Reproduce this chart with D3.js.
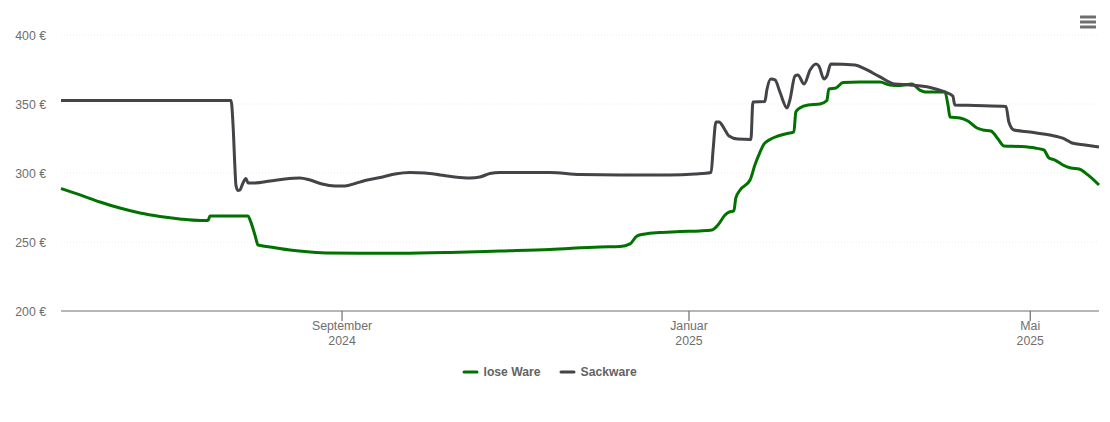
<!DOCTYPE html>
<html>
<head>
<meta charset="utf-8">
<script src="https://cdnjs.cloudflare.com/ajax/libs/d3/7.8.5/d3.min.js"></script>
<style>
    html, body { margin: 0; padding: 0; background: #fff; }
    svg { display: block; font-family: "Liberation Sans", Arial, sans-serif; }
</style>
</head>
<body>
<svg id="chart" width="1110" height="422"></svg>
<script>
// values, days are counted from the first date
const firstDate = "2024-05-25";
const lastDate = "2025-05-25";

const seriesNames = ["lose Ware", "Sackware"];

const loseDays = [0, 6.7, 13.7, 20.7, 27.8, 34.8, 41.8, 48.9, 51.7, 52.4, 65.8, 66.5, 68.2, 69.3, 73.5, 80.5,
    87.6, 94.6, 105.1, 119.2, 136.8, 154.4, 171.9, 189.5, 196.6, 200.1, 202.5, 205.3, 210.6, 217.7, 224.7,
    228.9, 231, 233.5, 234.9, 236.6, 237.3, 238.8, 242.3, 244, 245.8, 247.2, 249.3, 252.1, 256.3, 257.7,
    258.4, 259.8, 262.7, 266.9, 269.3, 270, 272.5, 275, 280.9, 288, 291.5, 295, 299.2, 302, 303.8, 310.8,
    311.9, 312.6, 316.1, 318.9, 322.1, 324.2, 327, 329.5, 331.6, 337.2, 342.5, 345.6, 347.4, 349.5, 352.3,
    355.1, 358, 361.1, 365];
const loseValues = [288.8, 284.1, 279, 274.6, 271, 268.5, 266.7, 265.6, 265.6, 268.8, 268.8, 265.9, 255.1, 247.8, 246.4, 244.2,
    242.8, 242, 241.8, 241.8, 242.4, 243.5, 244.6, 246.4, 246.7, 248.6, 254.3, 255.8, 256.9, 257.6, 258,
    258.7, 262.3, 269.6, 271.7, 272.5, 281.9, 287.7, 294.9, 305.8, 315.2, 321, 324.3, 326.8, 329, 329.7,
    344.2, 347.1, 349.3, 350, 352.5, 360.9, 361.6, 365.6, 365.9, 365.9, 363.8, 363.4, 364.5, 360.1, 358.7, 358.7,
    349.3, 340.6, 339.9, 337.7, 332.6, 331.2, 330.4, 324.6, 319.6, 319.2, 318.1, 316.7, 310.9, 309.4, 305.8,
    303.6, 302.9, 298.6, 291.3];

const sackDays = [0, 59.8, 60.5, 61.2, 61.5, 62.2, 62.9, 64, 65, 65.8, 68.2, 73.5, 78.8, 84, 87.6, 91.8, 96.3, 99.9,
    103.4, 106.9, 112.2, 117.4, 122.7, 128, 133.3, 138.5, 143.8, 147.3, 150.8, 154.4, 171.9, 182.5, 196.6,
    214.1, 222.9, 228.6, 229.3, 230.3, 231.4, 233.1, 234.9, 238, 242.6, 243.3, 247.5, 248.2, 249.6, 251.1,
    252.8, 255.3, 256.3, 258.1, 259.1, 261.3, 263.4, 265.5, 266.5, 268.3, 269.3, 270.7, 279.2, 282.7, 288,
    293.2, 298.5, 305.6, 310.8, 313.6, 314.3, 321.4, 332.3, 333.3, 335.1, 340.7, 347.7, 353, 355.5, 360.1, 365];
const sackValues = [352.5, 352.5, 334.8, 302.2, 291.3, 287.3, 287.7, 292.8, 296, 292.8, 292.8, 294.2, 295.7, 296.4, 294.9, 292, 290.6, 290.6,
    292.4, 294.6, 296.7, 299.3, 300.4, 300, 298.6, 297.1, 296.4, 297.1, 299.6, 300.4, 300.4, 298.9, 298.6,
    298.6, 299.3, 300.4, 316.7, 337, 337, 332.6, 326.8, 324.6, 324.3, 351.4, 351.8, 360.1, 368.1, 367.4,
    358.7, 347.1, 352.9, 370.3, 371, 364.5, 374.6, 379, 377.5, 368.1, 370.3, 379, 378.3, 375.4, 369.6,
    364.5, 363.8, 362, 358.7, 355.8, 349.3, 348.9, 348.2, 337, 331.2, 329.7, 327.5, 324.6, 321.7, 320.3, 318.8];

const yTicks = [200, 250, 300, 350, 400];
const xTicks = ["2024-09-01", "2025-01-01", "2025-05-01"];
const xTickLabels = [["September", "2024"], ["Januar", "2025"], ["Mai", "2025"]];

const colors = ["#007200", "#434348"];
const grey = "#6e6e6e";

const margin = {top: 35, right: 11, bottom: 111, left: 61};
const width = 1110 - margin.left - margin.right;
const height = 422 - margin.top - margin.bottom;

const parseDay = d3.utcParse("%Y-%m-%d");
const toDate = d => new Date(parseDay(firstDate).getTime() + d * 864e5);

const svg = d3.select("#chart");
const g = svg.append("g")
    .attr("transform", "translate(" + margin.left + "," + margin.top + ")");

const x = d3.scaleUtc()
    .domain([parseDay(firstDate), parseDay(lastDate)])
    .range([0, width]);
const y = d3.scaleLinear()
    .domain([200, 400])
    .range([height, 0]);

// y axis with the dotted grid
const yAxis = g.append("g")
    .call(d3.axisLeft(y).tickValues(yTicks).tickSize(-width).tickPadding(15).offset(0).tickFormat(d => d + " €"));
yAxis.select(".domain").remove();
yAxis.selectAll("line")
    .attr("stroke", "#ececec")
    .attr("stroke-dasharray", "1,2")
    .filter(d => d === 200).remove();
yAxis.selectAll("text")
    .attr("fill", grey)
    .attr("dy", "0.4em")
    .style("font-size", "12.3px");

// x axis, two line labels
const xAxis = g.append("g")
    .attr("transform", "translate(0," + height + ")")
    .call(d3.axisBottom(x).tickValues(xTicks.map(parseDay)).tickSize(10).offset(-0.5).tickFormat(""));
xAxis.select(".domain").attr("stroke", grey).attr("stroke-width", 1.2).attr("d", "M0,0H" + width);
xAxis.selectAll("line").attr("stroke", grey).attr("stroke-width", 1.2);
xAxis.selectAll(".tick").append("text")
    .attr("text-anchor", "middle")
    .attr("fill", grey)
    .style("font-size", "12.3px")
    .selectAll("tspan")
    .data((d, i) => xTickLabels[i])
    .join("tspan")
    .attr("x", 0)
    .attr("y", (d, i) => 19 + i * 15)
    .text(d => d);

const line = d3.line()
    .x(d => x(toDate(d[0])))
    .y(d => y(d[1]))
    .curve(d3.curveMonotoneX);

const series = [d3.zip(loseDays, loseValues), d3.zip(sackDays, sackValues)];

g.selectAll(".series")
    .data(series)
    .join("path")
    .attr("class", "series")
    .attr("fill", "none")
    .attr("stroke", (d, i) => colors[i])
    .attr("stroke-width", 3)
    .attr("stroke-linejoin", "round")
    .attr("d", line);

// legend
const legendX = [464, 561];
const legend = svg.selectAll(".legend")
    .data(seriesNames)
    .join("g")
    .attr("class", "legend")
    .attr("transform", (d, i) => "translate(" + legendX[i] + ",372)");
legend.append("line")
    .attr("x1", 0)
    .attr("x2", 13)
    .attr("stroke", (d, i) => colors[i])
    .attr("stroke-width", 3)
    .attr("stroke-linecap", "round");
legend.append("text")
    .attr("x", 19.5)
    .attr("y", 4)
    .attr("fill", "#636363")
    .style("font-size", "12.2px")
    .style("font-weight", "bold")
    .text(d => d);

// menu icon
svg.selectAll(".menu")
    .data([17, 22, 27])
    .join("rect")
    .attr("class", "menu")
    .attr("x", 1080)
    .attr("y", d => d - 1.5)
    .attr("width", 16)
    .attr("height", 3)
    .attr("rx", 0.5)
    .attr("fill", grey);
</script>
</body>
</html>
